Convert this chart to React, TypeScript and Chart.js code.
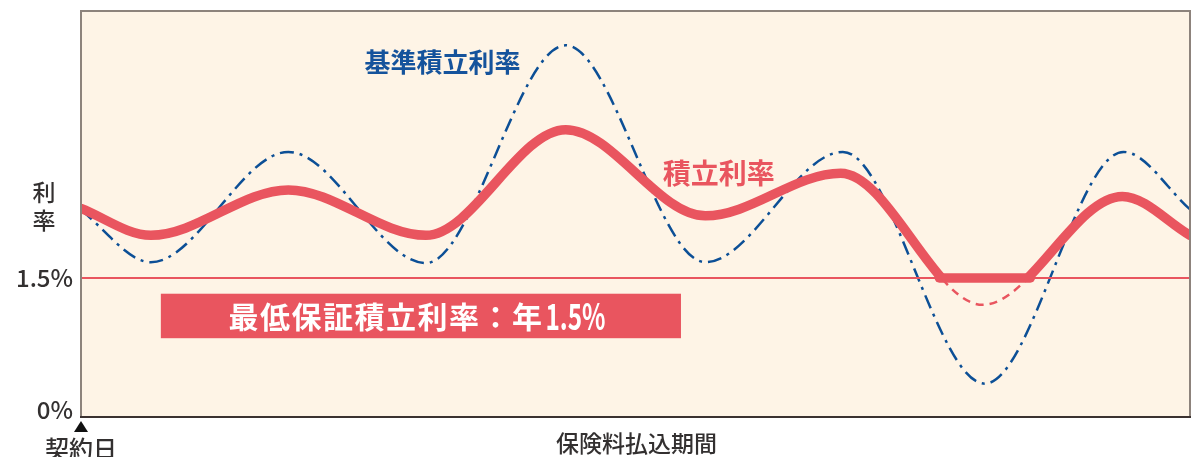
import { useEffect, useRef } from 'react';
import { Chart, registerables } from 'chart.js';

Chart.register(...registerables);

// x: position along the premium-payment period (0 = contract date, 100 = end)
const BLUE_X = [0, 6.3, 18.7, 31.1, 43.7, 56.3, 68.7, 81.5, 94.0, 100];
const BLUE_RATE = [2.23, 1.67, 2.86, 1.66, 4.01, 1.67, 2.86, 0.36, 2.86, 2.24];

// underlying 積立利率 curve (before the 1.5% floor is applied)
const RED_X = [0, 6.3, 18.7, 31.1, 43.7, 56.3, 68.5, 81.3, 93.9, 100];
const RED_RATE = [2.25, 1.96, 2.45, 1.96, 3.1, 2.17, 2.63, 1.21, 2.38, 1.96];

// floor segment where 積立利率 is held at the guaranteed minimum
const FLOOR_X = [77.4, 85.6];
const FLOOR_RATE = [1.5, 1.5];

const MIN_RATE_X = [0, 100];
const MIN_RATE = [1.5, 1.5];
const GUARANTEE = 1.5;

const Y_TICKS = [0, 1.5];
const Y_TICK_LABELS = ['0%', '1.5%'];

const LABEL_BLUE = '基準積立利率';
const LABEL_RED = '積立利率';
const LABEL_BOX = '最低保証積立利率：年';
const LABEL_BOX_NUM = '1.5%';
const Y_TITLE = ['利', '率'];
const X_START = '契約日';
const X_TITLE = '保険料払込期間';

const BG = '#fef4e6';
const RED = '#e9555f';
const BLUE = '#0c4f96';
const TEXT = '#333030';
const FONT = '"Noto Sans CJK JP", "Noto Sans", sans-serif';

const pts = (xs: number[], ys: number[]) => xs.map((x, i) => ({ x, y: ys[i] }));

const decor = {
  id: 'decor',
  beforeDraw(chart: any) {
    const { ctx, chartArea: a } = chart;
    ctx.save();
    ctx.fillStyle = '#ffffff';
    ctx.fillRect(0, 0, chart.width, chart.height);
    ctx.fillStyle = BG;
    ctx.fillRect(a.left, a.top, a.right - a.left, a.bottom - a.top);
    ctx.restore();
  },
  beforeDatasetDraw(chart: any, args: any) {
    const ds = chart.data.datasets[args.index];
    if (!ds.floorClip) return;
    const { ctx, chartArea: a } = chart;
    const yp = chart.scales.y.getPixelForValue(GUARANTEE);
    ctx.save();
    ctx.beginPath();
    if (ds.floorClip === 'above') ctx.rect(a.left, 0, a.right - a.left, yp);
    else ctx.rect(a.left, yp, a.right - a.left, a.bottom - yp);
    ctx.clip();
  },
  afterDatasetDraw(chart: any, args: any) {
    const ds = chart.data.datasets[args.index];
    if (ds.floorClip) chart.ctx.restore();
  },
  afterDatasetsDraw(chart: any) {
    const { ctx, chartArea: a } = chart;
    const xs = chart.scales.x;
    const ys = chart.scales.y;
    ctx.save();

    // label box
    const bx1 = xs.getPixelForValue(7.2);
    const bx2 = xs.getPixelForValue(54.1);
    const by1 = ys.getPixelForValue(1.33);
    const by2 = ys.getPixelForValue(0.85);
    ctx.fillStyle = RED;
    ctx.fillRect(bx1, by1, bx2 - bx1, by2 - by1);
    ctx.fillStyle = '#ffffff';
    ctx.textBaseline = 'middle';
    ctx.textAlign = 'left';
    ctx.font = `bold 30px ${FONT}`;
    (ctx as any).letterSpacing = '1.5px';
    const tx = xs.getPixelForValue(13.3);
    const ty = (by1 + by2) / 2 + 1;
    ctx.fillText(LABEL_BOX, tx, ty);
    const w1 = ctx.measureText(LABEL_BOX).width;
    (ctx as any).letterSpacing = '0px';
    ctx.font = `bold 36px ${FONT}`;
    const w2 = ctx.measureText(LABEL_BOX_NUM).width;
    ctx.save();
    ctx.translate(tx + w1 + 2, ty - 1);
    ctx.scale(Math.min(1, 60 / w2), 1);
    ctx.fillText(LABEL_BOX_NUM, 0, 0);
    ctx.restore();

    // series labels
    ctx.textAlign = 'center';
    ctx.font = `bold 26px ${FONT}`;
    ctx.fillStyle = '#15539c';
    ctx.fillText(LABEL_BLUE, xs.getPixelForValue(32.6), ys.getPixelForValue(3.83));
    ctx.font = `bold 28px ${FONT}`;
    ctx.fillStyle = RED;
    ctx.fillText(LABEL_RED, xs.getPixelForValue(57.5), ys.getPixelForValue(2.63));

    // frame
    ctx.lineWidth = 2;
    ctx.strokeStyle = '#8d837c';
    ctx.beginPath();
    ctx.moveTo(a.left, a.bottom);
    ctx.lineTo(a.left, a.top);
    ctx.lineTo(a.right, a.top);
    ctx.lineTo(a.right, a.bottom);
    ctx.stroke();
    ctx.strokeStyle = '#3b3230';
    ctx.beginPath();
    ctx.moveTo(a.left - 1, a.bottom);
    ctx.lineTo(a.right + 1, a.bottom);
    ctx.stroke();

    // y tick labels
    ctx.fillStyle = TEXT;
    ctx.textAlign = 'right';
    ctx.font = `500 24px ${FONT}`;
    Y_TICKS.forEach((v, i) => {
      const y = ys.getPixelForValue(v) - (v === 0 ? 7 : 0);
      ctx.fillText(Y_TICK_LABELS[i], a.left - 8, y);
    });

    // y title (vertical)
    ctx.textAlign = 'center';
    ctx.font = `500 23px ${FONT}`;
    ctx.fillText(Y_TITLE[0], 44, ys.getPixelForValue(2.42));
    ctx.fillText(Y_TITLE[1], 44, ys.getPixelForValue(2.12));

    // contract date marker
    const x0 = xs.getPixelForValue(0);
    ctx.fillStyle = '#111';
    ctx.beginPath();
    ctx.moveTo(x0, a.bottom + 4);
    ctx.lineTo(x0 + 7, a.bottom + 15);
    ctx.lineTo(x0 - 7, a.bottom + 15);
    ctx.closePath();
    ctx.fill();
    ctx.fillStyle = TEXT;
    ctx.font = `500 24px ${FONT}`;
    ctx.fillText(X_START, x0, a.bottom + 32);

    // x title
    ctx.font = `500 23px ${FONT}`;
    ctx.fillText(X_TITLE, xs.getPixelForValue(50.1), a.bottom + 26);

    ctx.restore();
  },
};

export default function App() {
  const ref = useRef<HTMLCanvasElement | null>(null);
  useEffect(() => {
    if (!ref.current) return;
    const chart = new Chart(ref.current, {
      type: 'line',
      data: {
        datasets: [
          {
            label: 'min',
            data: pts(MIN_RATE_X, MIN_RATE),
            borderColor: RED,
            borderWidth: 2,
            pointRadius: 0,
            tension: 0,
            clip: 0,
          },
          {
            label: 'redDash',
            data: pts(RED_X, RED_RATE),
            borderColor: RED,
            borderWidth: 2.5,
            borderDash: [8, 6],
            pointRadius: 0,
            cubicInterpolationMode: 'monotone',
            clip: 0,
            floorClip: 'below',
          },
          {
            label: 'redSolid',
            data: pts(RED_X, RED_RATE),
            borderColor: RED,
            borderWidth: 9.5,
            borderCapStyle: 'round',
            borderJoinStyle: 'round',
            pointRadius: 0,
            cubicInterpolationMode: 'monotone',
            clip: 0,
            floorClip: 'above',
          },
          {
            label: 'redFloor',
            data: pts(FLOOR_X, FLOOR_RATE),
            borderColor: RED,
            borderWidth: 9.5,
            borderCapStyle: 'round',
            pointRadius: 0,
            tension: 0,
            clip: 0,
          },
          {
            label: 'blue',
            data: pts(BLUE_X, BLUE_RATE),
            borderColor: BLUE,
            borderWidth: 2.5,
            borderDash: [14, 6, 3, 6],
            pointRadius: 0,
            cubicInterpolationMode: 'monotone',
            clip: 0,
          },
        ] as any,
      },
      options: {
        animation: false,
        responsive: true,
        maintainAspectRatio: false,
        layout: { padding: { left: 81, top: 11, right: 8, bottom: 40 } },
        plugins: { legend: { display: false }, tooltip: { enabled: false } },
        scales: {
          x: { type: 'linear', min: 0, max: 100, display: false },
          y: { type: 'linear', min: 0, max: 4.38, display: false },
        },
      },
      plugins: [decor],
    });
    return () => chart.destroy();
  }, []);
  return (
    <div style={{ position: 'fixed', left: 0, top: 0, width: 1198, height: 457, background: '#fff' }}>
      <canvas ref={ref} />
    </div>
  );
}
